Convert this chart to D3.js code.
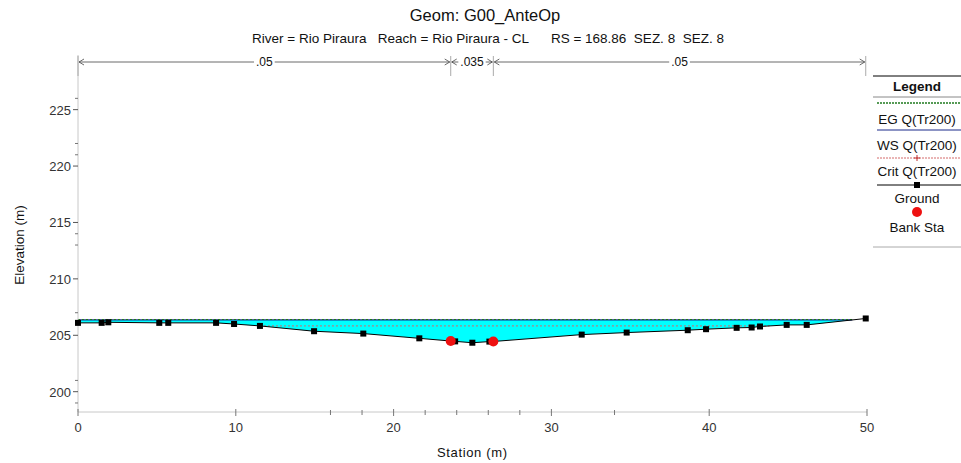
<!DOCTYPE html>
<html>
<head>
<meta charset="utf-8">
<script src="https://d3js.org/d3.v7.min.js"></script>
<style>
  body { margin: 0; background: #fff; }
  text { font-family: "Liberation Sans", Arial, sans-serif; fill: #111; }
</style>
</head>
<body>
<div id="chart"></div>
<script>
// Ground profile (station, elevation)
var stations   = [0, 1.5, 1.92, 5.15, 5.72, 8.75, 9.89, 11.53, 14.96, 18.08, 21.63, 23.62, 23.9, 24.99, 26.07, 26.32, 31.92, 34.77, 38.64, 39.8, 41.74, 42.69, 43.22, 44.91, 46.18, 49.92];
var elevations = [206.1, 206.1, 206.15, 206.1, 206.1, 206.1, 206.0, 205.83, 205.36, 205.15, 204.73, 204.49, 204.46, 204.34, 204.44, 204.45, 205.06, 205.24, 205.45, 205.54, 205.66, 205.69, 205.78, 205.92, 205.92, 206.49];

// Bank stations
var bankStations = [23.62, 26.32];
var bankElevs    = [204.49, 204.45];

// Water levels
var wsElev   = 206.36;
var egElev   = 206.40;
var critElev = 205.83;

// Manning's n
var nBreaks = [0, 23.62, 26.32, 49.92];
var nLabels = [".05", ".035", ".05"];

// Axis ticks
var xTicks      = [0, 10, 20, 30, 40, 50];
var xMinorTicks = [16, 18, 22, 24, 26, 28, 34];
var yTicks      = [200, 205, 210, 215, 220, 225];
var yMinorTicks = [199, 201, 207, 213, 214, 221, 222, 226];

var legendItems = ["EG Q(Tr200)", "WS Q(Tr200)", "Crit Q(Tr200)", "Ground", "Bank Sta"];

var W = 961, H = 463;
var svg = d3.select("#chart").append("svg").attr("width", W).attr("height", H);

var x = d3.scaleLinear().domain([0, 50]).range([78, 867]);
var y = d3.scaleLinear().domain([198.2, 229.4]).range([412, 60]);

var ground = stations.map(function(s, i) { return [s, elevations[i]]; });

// clip the ground to below a level, returns runs of points
function wetRuns(level) {
  var runs = [], cur = null;
  for (var i = 0; i < ground.length; i++) {
    var p = ground[i];
    if (i > 0) {
      var q = ground[i - 1];
      if ((q[1] - level) * (p[1] - level) < 0) {
        var t = (level - q[1]) / (p[1] - q[1]);
        var xi = q[0] + t * (p[0] - q[0]);
        if (cur) { cur.push([xi, level]); runs.push(cur); cur = null; }
        else { cur = [[xi, level]]; }
      }
    }
    if (p[1] <= level) { if (!cur) cur = []; cur.push(p); }
  }
  if (cur) runs.push(cur);
  return runs;
}

// Water fill
var area = d3.area()
  .x(function(d) { return x(d[0]); })
  .y0(function(d) { return y(d[1]); })
  .y1(function() { return y(wsElev); });
wetRuns(wsElev).forEach(function(run) {
  svg.append("path").attr("d", area(run)).attr("fill", "#00ffff");
});

// Crit line
wetRuns(critElev).forEach(function(run) {
  var a = run[0][0], b = run[run.length - 1][0];
  svg.append("line")
    .attr("x1", x(a)).attr("x2", x(b))
    .attr("y1", y(critElev)).attr("y2", y(critElev))
    .attr("stroke", "#d46a6a").attr("stroke-width", 1)
    .attr("stroke-dasharray", "2,2");
});

// WS line
wetRuns(wsElev).forEach(function(run) {
  var a = run[0][0], b = run[run.length - 1][0];
  svg.append("line")
    .attr("x1", x(a)).attr("x2", x(b))
    .attr("y1", y(wsElev)).attr("y2", y(wsElev))
    .attr("stroke", "#1a2a8a").attr("stroke-width", 1.3);
  // EG line
  svg.append("line")
    .attr("x1", x(a)).attr("x2", x(b))
    .attr("y1", y(egElev)).attr("y2", y(egElev))
    .attr("stroke", "#1e7a1e").attr("stroke-width", 1)
    .attr("stroke-dasharray", "2,2");
});

// Axes lines
svg.append("line").attr("x1", x(0)).attr("x2", x(0)).attr("y1", 55).attr("y2", 412)
  .attr("stroke", "#c8c8c8");
svg.append("line").attr("x1", x(0)).attr("x2", x(50)).attr("y1", 412).attr("y2", 412)
  .attr("stroke", "#c8c8c8");

// Y ticks
var gy = svg.append("g");
gy.selectAll("line.maj").data(yTicks).enter().append("line")
  .attr("x1", x(0) - 5).attr("x2", x(0))
  .attr("y1", function(d) { return y(d); }).attr("y2", function(d) { return y(d); })
  .attr("stroke", "#555");
gy.selectAll("line.min").data(yMinorTicks).enter().append("line")
  .attr("x1", x(0) - 3).attr("x2", x(0))
  .attr("y1", function(d) { return y(d); }).attr("y2", function(d) { return y(d); })
  .attr("stroke", "#777");
gy.selectAll("text").data(yTicks).enter().append("text")
  .attr("x", x(0) - 7).attr("y", function(d) { return y(d) + 5; })
  .attr("text-anchor", "end").attr("font-size", 13).style("fill", "#333")
  .text(function(d) { return d; });

// X ticks
var gx = svg.append("g");
gx.selectAll("line.maj").data(xTicks).enter().append("line")
  .attr("x1", function(d) { return x(d); }).attr("x2", function(d) { return x(d); })
  .attr("y1", 409).attr("y2", 416).attr("stroke", "#777");
gx.selectAll("line.min").data(xMinorTicks).enter().append("line")
  .attr("x1", function(d) { return x(d); }).attr("x2", function(d) { return x(d); })
  .attr("y1", 410).attr("y2", 415).attr("stroke", "#777");
gx.selectAll("text").data(xTicks).enter().append("text")
  .attr("x", function(d) { return x(d); }).attr("y", 432)
  .attr("text-anchor", "middle").attr("font-size", 13).style("fill", "#333")
  .text(function(d) { return d; });

// Axis titles
svg.append("text").attr("x", 472).attr("y", 457).attr("text-anchor", "middle")
  .attr("font-size", 13).attr("textLength", 70).text("Station (m)");
svg.append("text").attr("transform", "translate(24,245) rotate(-90)")
  .attr("text-anchor", "middle").attr("font-size", 13.5).text("Elevation (m)");

// Ground line + markers
var line = d3.line().x(function(d) { return x(d[0]); }).y(function(d) { return y(d[1]); });
svg.append("path").attr("d", line(ground)).attr("fill", "none")
  .attr("stroke", "#000").attr("stroke-width", 1);
svg.selectAll("rect.gp").data(ground).enter().append("rect")
  .attr("x", function(d) { return x(d[0]) - 3; })
  .attr("y", function(d) { return y(d[1]) - 3; })
  .attr("width", 6).attr("height", 6).attr("fill", "#000");

// Bank stations
svg.selectAll("circle.bank").data(bankStations).enter().append("circle")
  .attr("cx", function(d) { return x(d); })
  .attr("cy", function(d, i) { return y(bankElevs[i]); })
  .attr("r", 5).attr("fill", "#ee1111");

// Manning's n bar
var nY = 62;
var gn = svg.append("g");
nBreaks.forEach(function(b) {
  gn.append("line").attr("x1", x(b)).attr("x2", x(b)).attr("y1", 56).attr("y2", 76)
    .attr("stroke", "#aaa");
});
nLabels.forEach(function(lab, i) {
  var a = x(nBreaks[i]), b = x(nBreaks[i + 1]), c = (a + b) / 2;
  var t = gn.append("text").attr("x", c).attr("y", nY + 4).attr("text-anchor", "middle")
    .attr("font-size", 12).text(lab);
  var tw = t.node().getComputedTextLength();
  gn.append("line").attr("x1", a + 1).attr("x2", c - tw / 2 - 2).attr("y1", nY).attr("y2", nY)
    .attr("stroke", "#444").attr("stroke-width", 0.8);
  gn.append("line").attr("x1", c + tw / 2 + 2).attr("x2", b - 1).attr("y1", nY).attr("y2", nY)
    .attr("stroke", "#444").attr("stroke-width", 0.8);
  gn.append("path").attr("d", "M" + (a + 6) + "," + (nY - 3) + "L" + (a + 1) + "," + nY + "L" + (a + 6) + "," + (nY + 3))
    .attr("fill", "none").attr("stroke", "#444").attr("stroke-width", 0.8);
  gn.append("path").attr("d", "M" + (b - 6) + "," + (nY - 3) + "L" + (b - 1) + "," + nY + "L" + (b - 6) + "," + (nY + 3))
    .attr("fill", "none").attr("stroke", "#444").attr("stroke-width", 0.8);
});

// Titles
svg.append("text").attr("x", 485).attr("y", 21).attr("text-anchor", "middle")
  .attr("font-size", 16.5).text("Geom: G00_AnteOp");
svg.append("text").attr("x", 488).attr("y", 43).attr("text-anchor", "middle")
  .attr("font-size", 13.5).style("white-space", "pre")
  .text("River = Rio Piraura   Reach = Rio Piraura - CL      RS = 168.86  SEZ. 8  SEZ. 8");

// Legend
var lx0 = 873, lx1 = 961, lc = 917;
var fs = 13.5;
var lg = svg.append("g");
lg.append("line").attr("x1", lx0).attr("x2", lx1).attr("y1", 76).attr("y2", 76).attr("stroke", "#000");
lg.append("text").attr("x", lc).attr("y", 91).attr("text-anchor", "middle")
  .attr("font-size", fs).attr("font-weight", "bold").text("Legend");
lg.append("line").attr("x1", lx0).attr("x2", lx1).attr("y1", 97).attr("y2", 97).attr("stroke", "#888");
// EG
lg.append("line").attr("x1", lx0 + 4).attr("x2", lx1).attr("y1", 103).attr("y2", 103)
  .attr("stroke", "#1e7a1e").attr("stroke-width", 1.3).attr("stroke-dasharray", "2,1");
lg.append("text").attr("x", lc).attr("y", 124).attr("text-anchor", "middle").attr("font-size", fs).text(legendItems[0]);
// WS
lg.append("line").attr("x1", lx0 + 4).attr("x2", lx1).attr("y1", 130).attr("y2", 130)
  .attr("stroke", "#1a2a8a").attr("stroke-width", 1);
lg.append("text").attr("x", lc).attr("y", 150).attr("text-anchor", "middle").attr("font-size", fs).text(legendItems[1]);
// Crit
lg.append("line").attr("x1", lx0 + 4).attr("x2", lx1).attr("y1", 158).attr("y2", 158)
  .attr("stroke", "#d46a6a").attr("stroke-width", 1).attr("stroke-dasharray", "2,1");
lg.append("path").attr("d", "M" + (lc - 3) + ",158L" + (lc + 3) + ",158M" + lc + ",155L" + lc + ",161")
  .attr("stroke", "#c03030");
lg.append("text").attr("x", lc).attr("y", 176).attr("text-anchor", "middle").attr("font-size", fs).text(legendItems[2]);
// Ground
lg.append("line").attr("x1", lx0 + 4).attr("x2", lx1).attr("y1", 185).attr("y2", 185)
  .attr("stroke", "#000").attr("stroke-width", 1);
lg.append("rect").attr("x", lc - 3).attr("y", 182).attr("width", 6).attr("height", 6).attr("fill", "#000");
lg.append("text").attr("x", lc).attr("y", 203).attr("text-anchor", "middle").attr("font-size", fs).text(legendItems[3]);
// Bank
lg.append("circle").attr("cx", lc).attr("cy", 212).attr("r", 5).attr("fill", "#ee1111");
lg.append("text").attr("x", lc).attr("y", 232).attr("text-anchor", "middle").attr("font-size", fs).text(legendItems[4]);
lg.append("line").attr("x1", lx0).attr("x2", lx1).attr("y1", 247).attr("y2", 247).attr("stroke", "#aaa");
</script>
</body>
</html>
